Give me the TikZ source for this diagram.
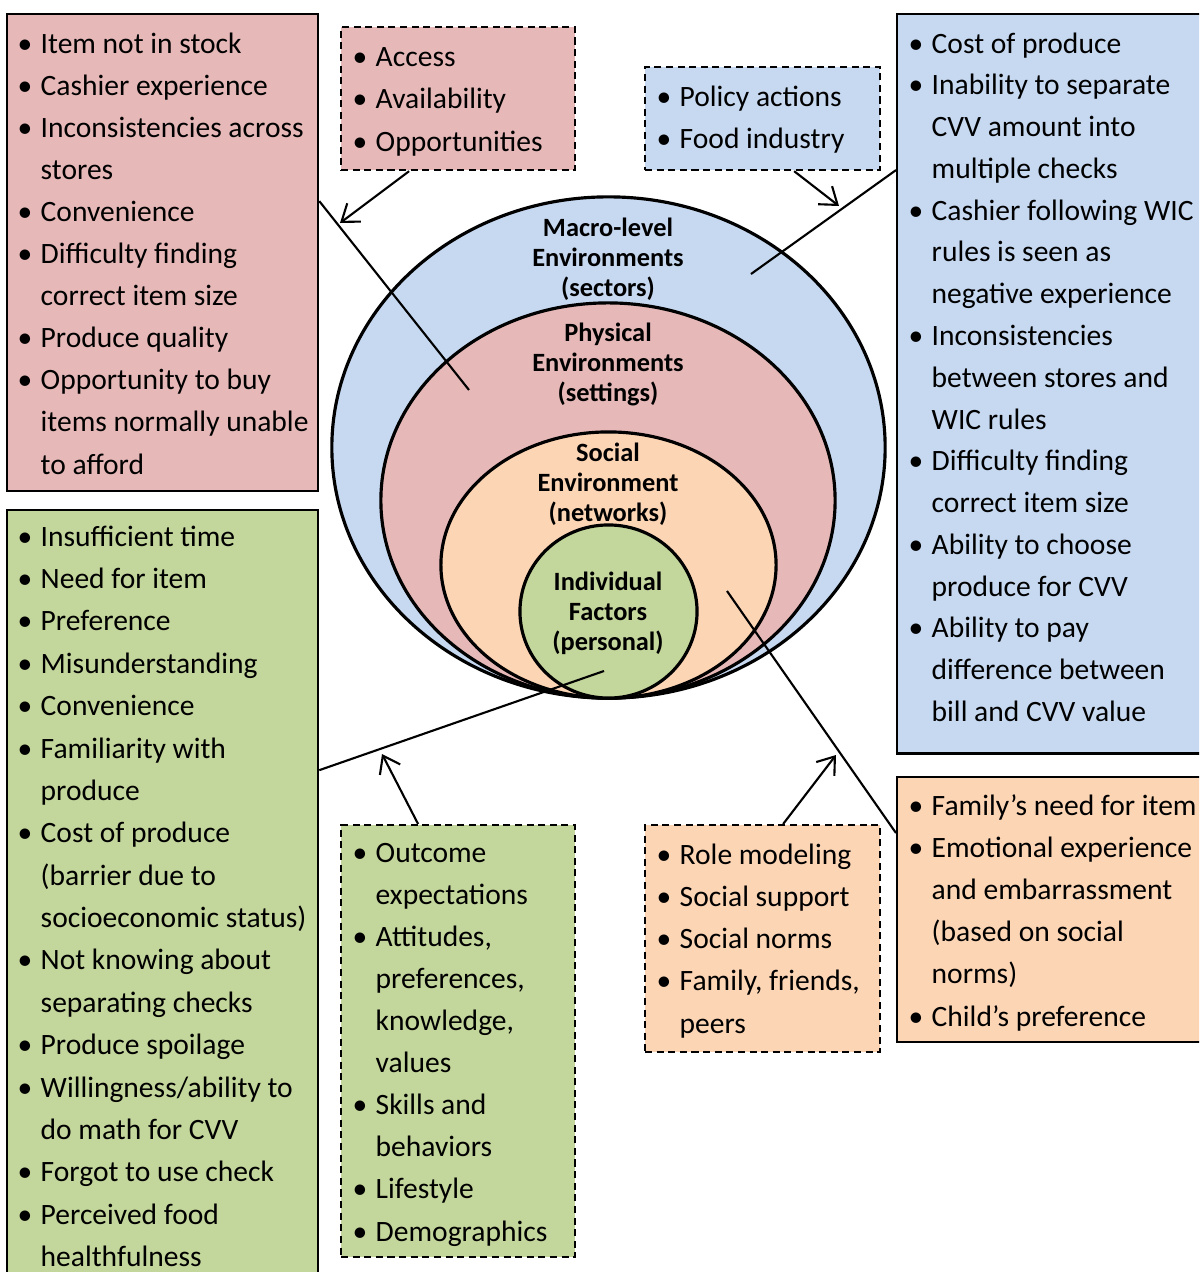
\documentclass[tikz,border=0pt]{standalone}
\usepackage{fontspec}
\setmainfont{Carlito}
\usetikzlibrary{arrows.meta,shapes.geometric}

\definecolor{pinkfill}{HTML}{E6B9B8}
\definecolor{bluefill}{HTML}{C6D9F1}
\definecolor{greenfill}{HTML}{C3D69B}
\definecolor{orangefill}{HTML}{FCD5B5}

\newcommand{\bul}{\makebox[0.23cm][l]{\textbullet}}
\newcommand{\cnt}{\hspace*{0.23cm}}

\tikzset{
  factorbox/.style={draw, line width=0.6pt, inner sep=0pt, anchor=north west},
  sourcebox/.style={factorbox, dash pattern=on 2pt off 1.3pt},
  listtext/.style={anchor=base west, inner sep=0pt, align=left, font=\fontsize{8.4}{11.95}\selectfont},
  ring/.style={ellipse, draw, line width=0.9pt, inner sep=0pt, outer sep=0pt},
  ringlabel/.style={anchor=base, inner sep=0pt, align=center, font=\fontsize{7.5}{8.4}\selectfont\bfseries},
  link/.style={line width=0.6pt},
  pointer/.style={line width=0.6pt, -{Straight Barb[length=4.5pt,width=6.5pt]}},
}

\begin{document}
\begin{tikzpicture}[x=0.01cm, y=-0.01cm]
    \useasboundingbox (0,0) rectangle (1199,1272);
    \clip (0,0) rectangle (1199,1272);

    % Nested levels
    \node[ring, fill=bluefill, minimum width=5.53cm, minimum height=5.01cm] (macro) at (608.5,447.5) {};
    \node[ring, fill=pinkfill, minimum width=4.54cm, minimum height=3.95cm] (physical) at (608,500.5) {};
    \node[ring, fill=orangefill, minimum width=3.35cm, minimum height=2.66cm] (social) at (608.5,565) {};
    \node[ring, fill=greenfill, minimum width=1.77cm, minimum height=1.73cm] (indiv) at (608.5,611.5) {};

    % labels sit on the baseline of their last line
    \node[ringlabel] (macrolabel) at (608,296) {Macro-level\\Environments\\(sectors)};
    \node[ringlabel] (physlabel) at (608,401) {Physical\\Environments\\(settings)};
    \node[ringlabel] (soclabel) at (608,521) {Social\\Environment\\(networks)};
    \node[ringlabel] (indivlabel) at (608,650) {Individual\\Factors\\(personal)};

    % Findings (solid boxes)
    \node[factorbox, fill=pinkfill, minimum width=3.11cm, minimum height=4.77cm] (pinkbox) at (6,13) {};
    \node[listtext] (pinklist) at (17,474) {\bul Item not in stock\\
        \bul Cashier experience\\
        \bul Inconsistencies across\\ \cnt stores\\
        \bul Convenience\\
        \bul Difficulty finding\\ \cnt correct item size\\
        \bul Produce quality\\
        \bul Opportunity to buy\\ \cnt items normally unable\\ \cnt to afford};

    \node[factorbox, fill=greenfill, minimum width=3.11cm, minimum height=8cm] (greenbox) at (6,509) {};
    \node[listtext, font=\fontsize{8.4}{12.05}\selectfont] (greenlist) at (17,1266.5) {\bul Insufficient time\\
        \bul Need for item\\
        \bul Preference\\
        \bul Misunderstanding\\
        \bul Convenience\\
        \bul Familiarity with\\ \cnt produce\\
        \bul Cost of produce\\ \cnt (barrier due to\\ \cnt socioeconomic status)\\
        \bul Not knowing about\\ \cnt separating checks\\
        \bul Produce spoilage\\
        \bul Willingness/ability to\\ \cnt do math for CVV\\
        \bul Forgot to use check\\
        \bul Perceived food\\ \cnt healthfulness};

    \node[factorbox, fill=bluefill, minimum width=3.2cm, minimum height=7.39cm] (bluebox) at (896,13) {};
    \node[listtext, font=\fontsize{8.4}{11.88}\selectfont] (bluelist) at (908,721.5) {\bul Cost of produce\\
        \bul Inability to separate\\ \cnt CVV amount into\\ \cnt multiple checks\\
        \bul Cashier following WIC\\ \cnt rules is seen as\\ \cnt negative experience\\
        \bul Inconsistencies\\ \cnt between stores and\\ \cnt WIC rules\\
        \bul Difficulty finding\\ \cnt correct item size\\
        \bul Ability to choose\\ \cnt produce for CVV\\
        \bul Ability to pay\\ \cnt difference between\\ \cnt bill and CVV value};

    \node[factorbox, fill=orangefill, minimum width=3.2cm, minimum height=2.65cm] (orangebox) at (896,776) {};
    \node[listtext] (orangelist) at (908,1026) {\bul Family’s need for item\\
        \bul Emotional experience\\ \cnt and embarrassment\\ \cnt (based on social\\ \cnt norms)\\
        \bul Child’s preference};

    % Model constructs (dashed boxes)
    \node[sourcebox, fill=pinkfill, minimum width=2.34cm, minimum height=1.43cm] (pinksrc) at (340,26) {};
    \node[listtext] (pinkterms) at (352,151) {\bul Access\\ \bul Availability\\ \bul Opportunities};

    \node[sourcebox, fill=bluefill, minimum width=2.35cm, minimum height=1.03cm] (bluesrc) at (644,66) {};
    \node[listtext] (blueterms) at (656,148.5) {\bul Policy actions\\ \bul Food industry};

    \node[sourcebox, fill=greenfill, minimum width=2.34cm, minimum height=4.32cm] (greensrc) at (340,824) {};
    \node[listtext] (greenterms) at (352,1241) {\bul Outcome\\ \cnt expectations\\
        \bul Attitudes,\\ \cnt preferences,\\ \cnt knowledge,\\ \cnt values\\
        \bul Skills and\\ \cnt behaviors\\
        \bul Lifestyle\\
        \bul Demographics};

    \node[sourcebox, fill=orangefill, minimum width=2.35cm, minimum height=2.27cm] (orangesrc) at (644,824) {};
    \node[listtext] (orangeterms) at (656,1033) {\bul Role modeling\\ \bul Social support\\ \bul Social norms\\
        \bul Family, friends,\\ \cnt peers};

    % Free ends
    \coordinate (pinkend) at (469,390);
    \coordinate (blueend) at (751,274);
    \coordinate (greenend) at (604,671);
    \coordinate (orangeend) at (727,591);
    \coordinate (pinktip) at (340,223);
    \coordinate (bluetip) at (839,206);
    \coordinate (greentip) at (382,754);
    \coordinate (orangetip) at (836,755);

    % Connectors
    \draw[link] ([yshift=-1.88cm]pinkbox.north east) -- (pinkend);
    \draw[link] ([yshift=-1.57cm]bluebox.north west) -- (blueend);
    \draw[link] ([yshift=-2.61cm]greenbox.north east) -- (greenend);
    \draw[link] ([yshift=-0.57cm]orangebox.north west) -- (orangeend);

    \draw[pointer] ([xshift=-0.49cm]pinksrc.south) -- (pinktip);
    \draw[pointer] ([xshift=0.315cm]bluesrc.south) -- (bluetip);
    \draw[pointer] ([xshift=-0.4cm]greensrc.north) -- (greentip);
    \draw[pointer] ([xshift=0.205cm]orangesrc.north) -- (orangetip);

\end{tikzpicture}
\end{document}
